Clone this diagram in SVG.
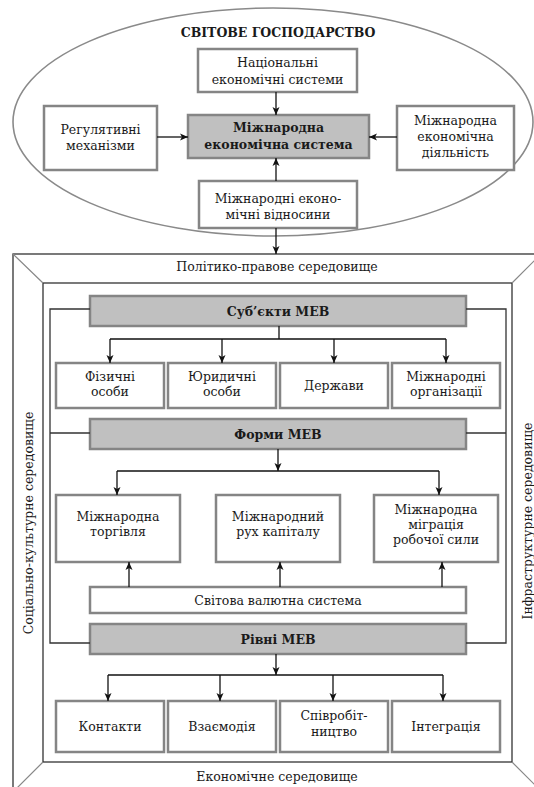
<svg xmlns="http://www.w3.org/2000/svg" width="534" height="787" viewBox="0 0 534 787">
<defs>
<marker id="ah" markerUnits="userSpaceOnUse" markerWidth="8" markerHeight="8" viewBox="0 0 8 8" refX="8" refY="4" orient="auto">
<path d="M0,0.5 L8,4 L0,7.5 L2,4 Z" fill="#111"/>
</marker>
<style>
.box{fill:#fff;stroke:#858585;stroke-width:2.5}
.gbox{fill:#c0c0c0;stroke:#858585;stroke-width:2.5}
.t{font-family:"DejaVu Serif","Liberation Serif",serif;font-size:12.5px;fill:#1a1a1a;text-anchor:middle}
.b{font-weight:bold}
.conn{stroke:#111;stroke-width:1.3;fill:none}
.arr{stroke:#111;stroke-width:1.3;fill:none;marker-end:url(#ah)}
.frame{stroke:#333;stroke-width:1.3;fill:none}
.diag{stroke:#888;stroke-width:1.2;fill:none}
</style>
</defs>
<rect width="534" height="787" fill="#fff"/>

<g id="world">
<ellipse cx="273" cy="122" rx="260" ry="114" fill="none" stroke="#8a8a8a" stroke-width="1.6"/>
<text class="t b" x="278" y="37" font-size="13.5">СВІТОВЕ ГОСПОДАРСТВО</text>
</g>

<g id="national">
<rect class="box" x="198" y="49" width="159" height="43"/>
<text class="t" x="277.5" y="67">Національні</text>
<text class="t" x="277.5" y="84">економічні системи</text>
</g>
<g id="mes">
<rect class="gbox" x="188" y="115" width="181" height="43"/>
<text class="t b" x="278.5" y="132">Міжнародна</text>
<text class="t b" x="278.5" y="149">економічна система</text>
</g>
<g id="regulative">
<rect class="box" x="44" y="106" width="113" height="64"/>
<text class="t" x="100.5" y="134">Регулятивні</text>
<text class="t" x="100.5" y="150">механізми</text>
</g>
<g id="activity">
<rect class="box" x="397" y="106" width="117" height="64"/>
<text class="t" x="455.5" y="125">Міжнародна</text>
<text class="t" x="455.5" y="141">економічна</text>
<text class="t" x="455.5" y="157">діяльність</text>
</g>
<g id="relations">
<rect class="box" x="199" y="181" width="158" height="47"/>
<text class="t" x="278" y="203">Міжнародні еконо-</text>
<text class="t" x="278" y="219">мічні відносини</text>
</g>

<g id="environment">
<rect class="frame" x="13" y="254" width="545" height="560"/>
<rect class="frame" x="43" y="283" width="469" height="479"/>
<path class="diag" d="M13,254 L43,283 M512,283 L541,254 M43,762 L13,792 M512,762 L541,791"/>
<text class="t" x="277" y="271">Політико-правове середовище</text>
<text class="t" x="277" y="781">Економічне середовище</text>
<text class="t" transform="translate(33,523) rotate(-90)">Соціально-культурне середовище</text>
<text class="t" transform="translate(532,521) rotate(-90)">Інфраструктурне середовище</text>
</g>

<g id="subjects">
<rect class="gbox" x="90" y="296" width="376" height="30"/>
<text class="t b" x="278" y="316" font-size="13.5">Суб’єкти МЕВ</text>
</g>
<g id="s1"><rect class="box" x="56" y="363" width="108" height="45"/>
<text class="t" x="110" y="381">Фізичні</text><text class="t" x="110" y="396">особи</text></g>
<g id="s2"><rect class="box" x="168" y="363" width="108" height="45"/>
<text class="t" x="222" y="381">Юридичні</text><text class="t" x="222" y="396">особи</text></g>
<g id="s3"><rect class="box" x="280" y="363" width="108" height="45"/>
<text class="t" x="334" y="390">Держави</text></g>
<g id="s4"><rect class="box" x="392" y="363" width="108" height="45"/>
<text class="t" x="446" y="381">Міжнародні</text><text class="t" x="446" y="396">організації</text></g>

<g id="forms">
<rect class="gbox" x="90" y="419" width="376" height="30"/>
<text class="t b" x="278" y="439" font-size="13.5">Форми МЕВ</text>
</g>
<g id="f1"><rect class="box" x="56" y="495" width="124" height="67"/>
<text class="t" x="118" y="521">Міжнародна</text><text class="t" x="118" y="536">торгівля</text></g>
<g id="f2"><rect class="box" x="216" y="495" width="124" height="67"/>
<text class="t" x="278" y="521">Міжнародний</text><text class="t" x="278" y="536">рух капіталу</text></g>
<g id="f3"><rect class="box" x="374" y="495" width="124" height="67"/>
<text class="t" x="436" y="514">Міжнародна</text><text class="t" x="436" y="529">міграція</text><text class="t" x="436" y="544">робочої сили</text></g>
<g id="currency"><rect class="box" x="90" y="587" width="376" height="26"/>
<text class="t" x="278" y="605">Світова валютна система</text></g>

<g id="levels">
<rect class="gbox" x="90" y="624" width="376" height="30"/>
<text class="t b" x="278" y="644" font-size="13.5">Рівні МЕВ</text>
</g>
<g id="l1"><rect class="box" x="56" y="701" width="108" height="51"/>
<text class="t" x="110" y="731">Контакти</text></g>
<g id="l2"><rect class="box" x="168" y="701" width="108" height="51"/>
<text class="t" x="222" y="731">Взаємодія</text></g>
<g id="l3"><rect class="box" x="280" y="701" width="108" height="51"/>
<text class="t" x="334" y="720">Співробіт-</text><text class="t" x="334" y="736">ництво</text></g>
<g id="l4"><rect class="box" x="392" y="701" width="108" height="51"/>
<text class="t" x="446" y="731">Інтеграція</text></g>

<g id="connectors">
<path class="arr" d="M276,92 V115"/>
<path class="arr" d="M157,137 H188"/>
<path class="arr" d="M397,137 H369"/>
<path class="arr" d="M276,181 V158"/>
<path class="arr" d="M276,228 V254"/>
<path class="frame" d="M90,309 H50 V643 H90 M466,309 H506 V643 H466 M50,433 H90 M466,433 H506"/>
<path class="conn" d="M279,326 V339 M110,339 H446"/>
<path class="arr" d="M110,339 V363"/>
<path class="arr" d="M222,339 V363"/>
<path class="arr" d="M334,339 V363"/>
<path class="arr" d="M446,339 V363"/>
<path class="arr" d="M278,449 V471"/>
<path class="conn" d="M117,471 H439"/>
<path class="arr" d="M117,471 V495"/>
<path class="arr" d="M439,471 V495"/>
<path class="arr" d="M129,587 V562"/>
<path class="arr" d="M280,587 V562"/>
<path class="arr" d="M442,587 V562"/>
<path class="arr" d="M276,654 V675"/>
<path class="conn" d="M108,675 H443"/>
<path class="arr" d="M108,675 V701"/>
<path class="arr" d="M220,675 V701"/>
<path class="arr" d="M333,675 V701"/>
<path class="arr" d="M443,675 V701"/>
</g>
</svg>
